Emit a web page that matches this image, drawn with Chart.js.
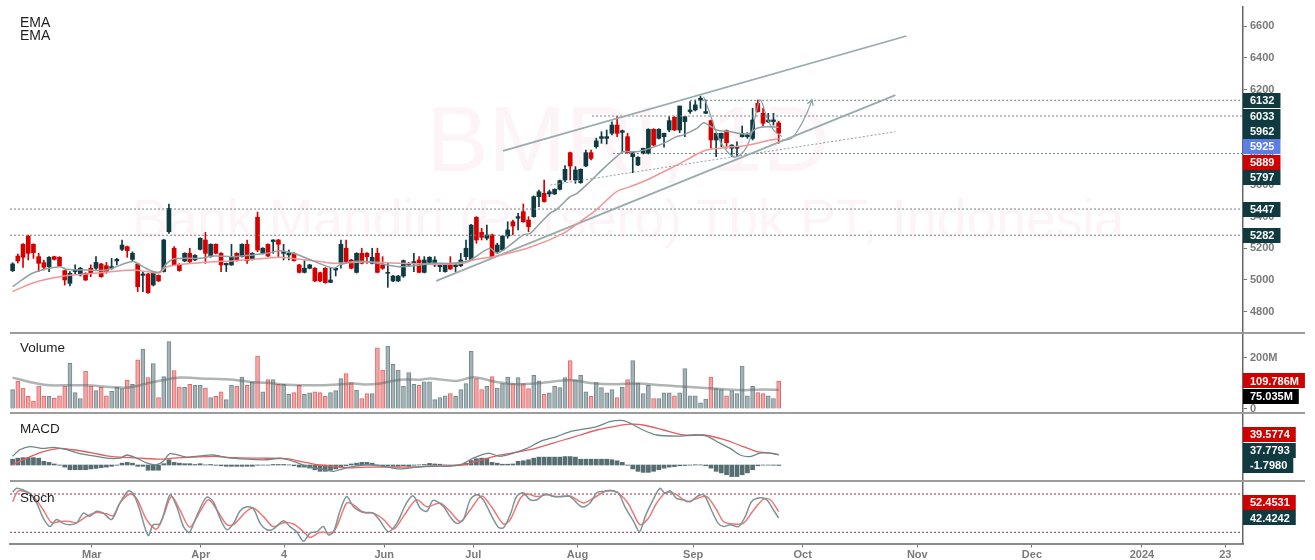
<!DOCTYPE html>
<html><head><meta charset="utf-8">
<script src="https://cdn.jsdelivr.net/npm/chart.js@4.4.0/dist/chart.umd.min.js"></script>
<style>
html,body{margin:0;padding:0;background:#fff;}
#wrap{position:relative;width:1315px;height:560px;overflow:hidden;font-family:"Liberation Sans",Arial,sans-serif;}
canvas{position:absolute;left:0;z-index:2;}
.wm{position:absolute;left:0;width:1256px;text-align:center;color:#fcf4f7;white-space:nowrap;line-height:1;z-index:1;font-family:"Liberation Sans",Arial,sans-serif;}
.ttl{position:absolute;left:20px;color:#1e1e1e;line-height:1;z-index:3;}
.sep{position:absolute;left:10px;width:1295px;height:2px;background:#9c9c9c;z-index:3;}
</style></head><body>
<div id="wrap">
  <div class="wm" style="top:93px;font-size:93px">BMRI, 1D</div>
  <div class="wm" style="top:192px;font-size:53.5px">Bank Mandiri (Persero) Tbk PT, Indonesia</div>
  <canvas id="cPrice" width="1315" height="333" style="top:0"></canvas>
  <canvas id="cVol" width="1315" height="80" style="top:333px"></canvas>
  <canvas id="cMacd" width="1315" height="68" style="top:413px"></canvas>
  <canvas id="cStoch" width="1315" height="79" style="top:481px"></canvas>
  <div class="sep" style="top:332px"></div>
  <div class="sep" style="top:412px"></div>
  <div class="sep" style="top:480px"></div>
  <div class="ttl" style="top:15px;font-size:14px">EMA</div>
  <div class="ttl" style="top:27.5px;font-size:14px">EMA</div>
  <div class="ttl" style="top:340.5px;font-size:13.5px">Volume</div>
  <div class="ttl" style="top:422px;font-size:13.5px">MACD</div>
  <div class="ttl" style="top:490.5px;font-size:13.5px">Stoch</div>
</div>
<script>
// ---------------- DATA ----------------
const open  = [5059,5151,5225,5277,5225,5147,5109,5084,5147,5143, 5059,4979,5053,5032,5042,5074,5074,5101,5090,5074,
5120,5193,5210,5130,5101,5029,5038,4969,5029,5053, 5304,5200,5099,5120,5168,5126,5193,5252,5147,5225,
5168,5095,5095,5168,5147,5225,5130,5395,5168,5225, 5242,5252,5168,5158,5168,5095,5048,5074,5074,5046,
5074,4985,5063,5105,5200,5126,5048,5168,5168,5105, 5168,5095,5042,4994,4994,5025,5095,5105,5126,5048,
5111,5095,5084,5053,5095,5084,5090,5147,5126,5395, 5300,5263,5284,5179,5189,5277,5367,5389,5430,5378,
5399,5525,5546,5542,5542,5571,5630,5802,5630,5613, 5718,5802,5840,5892,5892,5924,5976,5930,5903,5777,
5724,5798,5798,5949,5892,5903,5945,6025,5945,5998, 6061,6071,6134,6050,6004,5882,5892,5941,5830,5830,
5903,5903,5892,6113,6050,5998,5998,5990];
const high  = [5109,5164,5230,5283,5228,5168,5126,5147,5150,5147, 5063,5053,5095,5080,5046,5095,5147,5105,5111,5136,
5136,5252,5214,5178,5105,5053,5042,5053,5032,5256, 5479,5210,5103,5172,5200,5160,5266,5300,5228,5228,
5172,5107,5225,5172,5228,5252,5172,5428,5204,5228, 5254,5256,5225,5189,5172,5099,5122,5099,5078,5050,
5078,5074,5076,5252,5252,5130,5172,5200,5172,5200, 5200,5147,5105,5029,5029,5126,5111,5168,5147,5147,
5147,5147,5105,5099,5147,5105,5168,5252,5350,5399, 5325,5346,5290,5231,5280,5367,5378,5420,5479,5399,
5530,5567,5630,5567,5575,5630,5720,5806,5714,5700, 5819,5819,5893,5934,5945,5997,6029,5945,5924,5808,
5777,5830,5953,5953,5953,5926,6029,6029,6096,6031, 6124,6134,6159,6134,6008,5926,5926,5945,5852,5871,
5970,5928,6082,6134,6082,6050,6050,6000];
const low   = [5053,5107,5080,5126,5136,5053,5063,5053,5125,5084, 4968,4962,5038,5025,4996,5021,5067,5017,5042,5067,
5095,5185,5143,5120,4927,4927,4916,4962,4990,5050, 5294,5090,5055,5115,5105,5122,5189,5105,5143,5164,
5053,5053,5092,5118,5143,5105,5126,5178,5164,5147, 5168,5147,5126,5126,5118,5044,5044,5070,4990,4990,
4979,4983,5025,5074,5105,5070,5044,5101,5105,5101, 5044,5067,4954,4990,4990,5017,5088,5053,5044,5044,
5107,5084,5053,5050,5067,5053,5084,5126,5122,5231, 5252,5252,5143,5168,5185,5263,5284,5315,5363,5304,
5395,5462,5490,5525,5538,5567,5620,5630,5609,5609, 5714,5756,5830,5861,5857,5914,5903,5808,5798,5676,
5720,5794,5794,5846,5888,5836,5934,5941,5928,5903, 6050,6065,6082,6048,5830,5777,5840,5830,5777,5777,
5900,5892,5882,6057,5970,5991,5976,5861];
const close = [5101,5120,5143,5168,5172,5105,5080,5143,5130,5088, 5000,5042,5067,5074,5000,5042,5111,5021,5053,5084,
5130,5220,5185,5168,4958,5038,4920,5046,4994,5252, 5451,5095,5059,5168,5116,5155,5263,5168,5225,5168,
5095,5105,5147,5122,5225,5122,5168,5189,5200,5151, 5252,5225,5178,5168,5122,5048,5074,5095,4994,4994,
4983,5000,5074,5225,5116,5074,5168,5105,5147,5143, 5048,5074,5048,5025,5025,5122,5105,5116,5048,5126,
5143,5126,5095,5095,5069,5095,5126,5200,5346,5252, 5269,5284,5147,5220,5277,5315,5340,5399,5367,5336,
5525,5556,5494,5556,5571,5626,5697,5718,5693,5697, 5802,5766,5876,5903,5903,5976,5924,5940,5802,5802,
5773,5830,5949,5850,5949,5924,6004,5945,6096,6029, 6071,6103,6145,6061,5882,5924,5924,5865,5850,5840,
5924,5914,6008,6061,5987,6008,6008,5925];
// volume in millions
const volume = [75.8,109,82,50,31,90,50,50,42,52, 90,179,64,41,148,90,72,86,52,69,
86,80,113,97,193,234,123,178,45,127, 264,151,86,86,97,93,93,82,45,50,
67,37,93,89,125,93,106,207,67,115, 115,97,97,57,64,93,57,63,67,64,
50,64,72,119,139,104,73,41,60,60, 240,153,247,175,153,89,143,97,93,106,
106,37,45,52,60,50,76,100,226,119, 76,89,127,82,100,125,100,123,100,80,
132,110,57,63,89,84,123,190,114,132, 67,50,104,84,63,76,45,86,115,190,
102,60,93,41,41,63,63,52,63,158, 52,52,24,39,125,80,76,52,71,60,
168,52,89,64,60,52,41,109.786];
const volumeMA = [[0,123],[4,103],[7.2,93],[10.4,93],[14.2,93],[18.7,86],[21.9,84],[24.4,93],[27,106],[29.6,116],[32.1,123],[36,120],[42.4,115],[45.6,106],[48.8,103],[52.6,95],[58.4,93],[61.6,95],[65.4,100],[67.9,96],[70.5,100],[74.3,115],[78.2,115],[80.1,120],[85.2,110],[88.4,124],[92.9,106],[96.7,97],[101.2,102],[107,114],[110.8,102],[115.9,97],[119.8,100],[124.9,93],[130,86],[134.5,80],[139.6,74],[144.1,76],[147,75.035]];
const emaFast = [[0,4958],[4,5046],[9,5084],[10.4,5067],[14,5063],[18,5063],[23,5116],[25,5084],[27,5053],[28.3,5053],[29.6,5105],[31,5134],[36,5137],[38.5,5151],[42.4,5147],[46.2,5158],[48.8,5168],[51.3,5185],[53.9,5168],[56.4,5137],[61.6,5074],[62.8,5095],[65.4,5116],[67.9,5116],[71.8,5095],[74.4,5084],[78.2,5095],[80.8,5105],[84,5105],[87.1,5116],[88.4,5137],[91.6,5200],[92.9,5168],[95.5,5221],[98,5284],[99.3,5294],[100.6,5336],[103.1,5420],[104.4,5445],[107,5525],[108.3,5546],[110.8,5620],[113.4,5703],[115.9,5777],[117.2,5808],[119.8,5808],[122.3,5830],[124.9,5861],[127.4,5903],[128.7,5914],[131.3,5955],[132.6,5991],[133.8,5970],[135.1,5945],[137.7,5934],[140.2,5920],[141.5,5924],[142.8,5956],[144.7,5966],[147,5962]];
const emaSlow = [[0,4927],[4,4983],[9.1,5021],[14.2,5038],[19.3,5053],[23.2,5063],[25.7,5053],[28.3,5046],[29.6,5084],[36,5109],[42.4,5122],[48.8,5137],[51.3,5143],[55.2,5130],[59,5116],[61.6,5105],[64.1,5109],[67.9,5113],[74.4,5105],[80.8,5099],[86.5,5105],[88.4,5126],[92.9,5151],[99.3,5206],[105.7,5294],[108.9,5367],[112.1,5445],[115.9,5557],[118.5,5588],[121.7,5630],[124.9,5682],[128.1,5735],[131.3,5792],[133.2,5819],[135.8,5830],[137.7,5840],[140.2,5844],[142.8,5861],[145.4,5882],[147,5889]];
const levels = [6132, 6033, 5797, 5447, 5282];
const levelStart = [130, 111.2, 115.2, -0.5, -0.5];
const channelTop = [[94.1,5813],[171.5,6537]];
const channelBottom = [[81.3,4994],[169.4,6165]];
const midDotted = [[103.2,5598],[169.4,5934]];
const cupPath = [[132.6,6155],[133.8,6050],[135.1,5924],[136.4,5840],[138.3,5777],[139.6,5787],[140.9,5840],[141.8,5924],[142.8,6071],[143.5,6134],[144.7,6029],[146,5945],[147.6,5903]];
const arrowPath = [[147.6,5882],[148.9,5886],[149.8,5903],[151.1,5966],[152.4,6050],[153.4,6134]];
const arrowHead = [[152.5,6110],[153.4,6134],[153.6,6097]];
const macdHist = [22,26,28,28,28,26,14,10,4,-1, -8,-18,-18,-18,-18,-15,-13,-10,-8,-5,
-1,7,10,7,-5,-5,-20,-20,-20,5, 20,10,7,5,5,2,5,0.5,2,-1,
-3,-5,-5,-5,-5,-5,-5,-1,-0.5,-0.5, 2,2,2,0.5,-3,-8,-8,-12,-18,-24,
-24,-20,-15,-8,-3,4,7,10,10,7, 0.5,-3,-3,-5,-5,-3,-5,-1,0.5,2,
6,4,3,0.5,-1,-1,1,7,17,24, 26,26,10,7,3,3,4,14,16,20,
26,30,30,30,30,30,32,32,30,22, 22,22,22,22,22,20,16,10,-1,-15,
-24,-28,-28,-24,-18,-12,-8,-6,-3,-2, -0.5,1,0.5,-3,-12,-24,-30,-37,-44,-44,
-37,-30,-18,-3,-0.5,-0.5,-1,-1.798];
const macdLine = [[0,33],[1.4,58],[3.3,70],[5.9,63],[7.8,67],[10.4,58],[12.9,43],[15.5,35],[18,26],[20.6,26],[21.9,38],[23.8,26],[25.7,8],[27.6,1],[28.9,14],[30.2,43],[33.4,30],[36,35],[38.5,38],[41.1,28],[44.9,22],[48.8,20],[51.3,26],[53.9,14],[56.4,-5],[59,-15],[61.6,-24],[62.8,-18],[64.7,-8],[67.9,1],[71.1,-5],[74.3,-15],[77.5,-8],[80.7,-3],[83.3,-5],[85.9,1],[88.4,26],[91.3,45],[93.5,33],[96.1,45],[98.7,63],[101.2,89],[104.4,108],[107,127],[109.5,136],[112.1,146],[114.6,165],[117.2,169],[118.5,159],[121,133],[123.6,114],[127.4,110],[131.3,114],[133.2,110],[135.8,82],[137.7,63],[139.6,38],[141.5,32],[143.4,45],[145.4,45],[147,37.7793]];
const signalLine = [[0,1],[2.7,26],[5.9,51],[9.1,63],[11.6,58],[15.5,45],[18,35],[20.6,30],[24.4,26],[28.3,22],[30.8,26],[34.7,30],[38.5,33],[42.4,28],[47.5,26],[52.6,24],[55.2,14],[58.4,1],[61.6,-5],[64.7,-11],[67.9,-8],[74.3,-8],[80.7,-5],[86.5,1],[92.9,35],[99.3,58],[105.7,95],[108.9,114],[112.1,133],[115.9,148],[118.5,155],[121,152],[124.9,133],[128.7,114],[132.6,114],[136.4,97],[140.2,70],[142.8,51],[145.4,45],[147,39.5774]];
const stochK = [[0,83],[0.8,89],[2.1,86],[3.3,81],[4.6,66],[5.9,42],[7.2,29],[8.4,40],[9.7,34],[11,32],[12.3,35],[13.6,50],[14.8,45],[16.1,53],[17.4,50],[19,40],[20.6,66],[22.2,85],[23.2,80],[24.4,55],[26,15],[27,32],[28.3,33],[29.6,66],[30.3,79],[31.5,60],[32.8,29],[33.9,20],[35.3,45],[37.2,75],[38.5,68],[39.8,42],[41.1,24],[42.4,34],[43.6,53],[44.9,60],[46.2,57],[47.5,34],[48.8,24],[50,25],[52,38],[53.2,29],[54.5,21],[55.8,6],[57.1,19],[58.4,21],[59.6,29],[60.6,16],[61.6,21],[62.8,53],[64.1,76],[65.4,60],[66.7,53],[67.9,51],[69.2,50],[70.5,38],[72.1,21],[73.7,34],[75.6,66],[76.9,77],[78.2,58],[79.5,53],[80.7,70],[82.7,60],[83.9,45],[85.2,34],[86.5,40],[87.8,71],[89.1,79],[90.3,71],[91.6,51],[93.2,28],[94.2,27],[95.5,48],[96.7,76],[98,82],[99.3,71],[100.6,71],[102.2,80],[103.8,76],[105.7,76],[107,76],[109.2,60],[110.8,66],[112.1,82],[113.4,84],[115,85],[116.3,81],[117.5,60],[119.1,38],[120.3,21],[121.4,45],[122.6,66],[124.2,89],[125.2,81],[126.2,85],[127.4,73],[128.7,71],[130,68],[131.3,76],[132.6,79],[134.2,53],[135.4,34],[136.4,29],[137.7,32],[139.3,29],[140.6,45],[141.8,68],[143.4,74],[144.7,71],[146,55],[147,42.4242]];
const stochD = [[0,68],[1.1,85],[2.7,83],[4,76],[5.9,55],[7.5,35],[9.1,37],[11,37],[12.3,35],[14.2,45],[16.1,51],[18,49],[19.3,46],[20.6,66],[22.5,80],[23.8,73],[25.7,40],[27.6,25],[28.9,45],[30.5,76],[32.1,55],[34,28],[36,53],[37.6,71],[39.2,55],[41.1,32],[42.4,32],[44.9,53],[46.2,58],[48.1,45],[50,29],[52,35],[53.9,33],[55.8,21],[57.1,12],[59,20],[61.6,21],[64.1,66],[65.4,63],[67.3,51],[69.2,50],[71.2,40],[73.1,25],[75,45],[77.5,71],[79.5,60],[82,66],[83.9,53],[85.9,37],[87.8,55],[90,77],[91.9,60],[94.2,33],[95.5,40],[97.4,73],[98.7,80],[100.6,76],[102.5,79],[104.4,76],[107,77],[109.5,66],[111.4,73],[114,85],[115.9,83],[117.9,68],[119.1,50],[120.4,32],[122,42],[123.6,66],[125.5,83],[127.4,79],[129.4,68],[131.3,73],[133.2,76],[135.1,55],[136.4,37],[138.3,33],[140.2,34],[142.2,55],[144.1,72],[145.4,71],[147,52.4531]];
const stochBands = [80, 20];
const priceTicks = [4800,5000,5200,5400,5600,5800,6000,6200,6400,6600];
const volTicks = [0,100,200];
const xTickPos = [15.2,36.1,52.1,71.3,88.4,108.4,130.6,151.6,173.6,195.6,216.7,232.7];
const xTickLabels = ['Mar','Apr','4','Jun','Jul','Aug','Sep','Oct','Nov','Dec','2024','23'];

// ---------------- STYLE / HELPERS ----------------
const FONT = '"Liberation Sans", Arial, sans-serif';
Chart.defaults.font.family = FONT;
const XMIN = -0.5, XMAX = 236.1;
const C_UP = '#0e3a42', C_DN = '#d40000';
const L_DARK = '#0f3a40', L_RED = '#cf0000', L_BLUE = '#5b7fe6', L_BLACK = '#000000';
const up = i => close[i] >= open[i];
const pts = a => a.map(p => ({x: p[0], y: p[1]}));
const last = a => a[a.length - 1][1];

function xHidden() { return {type: 'linear', min: XMIN, max: XMAX, offset: false, display: false}; }
function yAxis(min, max, ticks, fmt, show) {
  return {
    type: 'linear', position: 'right', min, max,
    afterBuildTicks: s => { s.ticks = ticks.map(v => ({value: v})); },
    afterFit: s => { s.width = 72; s.paddingTop = 0; s.paddingBottom = 0; },
    ticks: {display: show, color: '#7a7a7a', font: {family: FONT, size: 11, weight: 'bold'}, padding: 3, callback: fmt},
    grid: {drawOnChartArea: false, drawTicks: show, tickLength: 4, color: '#777'},
    border: {display: true, color: '#666', width: 1.5}
  };
}
function labelPlugin(items, dir) {
  return {
    id: 'valueLabels',
    afterDraw(chart) {
      const ctx = chart.ctx, ys = chart.scales.y, x0 = chart.chartArea.right;
      const arr = items.map(it => Object.assign({}, it, {y: ys.getPixelForValue(it.value)})).sort((a, b) => a.y - b.y);
      const sp = 15.4;
      if (dir > 0) { for (let i = 1; i < arr.length; i++) arr[i].y = Math.max(arr[i].y, arr[i - 1].y + sp); }
      else { for (let i = arr.length - 2; i >= 0; i--) arr[i].y = Math.min(arr[i].y, arr[i + 1].y - sp); }
      ctx.save();
      ctx.font = 'bold 11px ' + FONT;
      ctx.textBaseline = 'middle';
      arr.forEach(a => {
        const w = ctx.measureText(a.text).width + 13;
        ctx.fillStyle = a.color;
        ctx.fillRect(x0, Math.round(a.y - 7.5), w, 15);
        ctx.fillStyle = '#ffffff';
        ctx.fillText(a.text, x0 + 7, a.y + 0.5);
      });
      ctx.restore();
    }
  };
}
const lineDs = (data, color, width, extra) => Object.assign({
  type: 'line', data, borderColor: color, borderWidth: width, pointRadius: 0, fill: false, tension: 0, order: 1
}, extra || {});
const base = (pad) => ({
  responsive: false, animation: false, devicePixelRatio: 1, events: [],
  layout: {padding: pad},
  plugins: {legend: {display: false}, tooltip: {enabled: false}}
});

// ---------------- PRICE PANE ----------------
const idxs = close.map((_, i) => i);
const priceDatasets = [
  {type: 'bar', data: idxs.map(i => ({x: i, y: [open[i], close[i]]})), barThickness: 4, grouped: false,
   backgroundColor: c => up(c.dataIndex) ? C_UP : C_DN, order: 4},
  {type: 'bar', data: idxs.map(i => ({x: i, y: [low[i], high[i]]})), barThickness: 1, grouped: false,
   backgroundColor: c => up(c.dataIndex) ? C_UP : C_DN, order: 5},
  lineDs(pts(emaFast), '#8ea0a3', 1.5, {tension: 0.3}),
  lineDs(pts(emaSlow), '#f09696', 1.5, {tension: 0.3}),
  lineDs(pts(channelTop), '#9aabae', 1.8),
  lineDs(pts(channelBottom), '#9aabae', 1.8),
  lineDs(pts(midDotted), '#8d9ea2', 1, {borderDash: [2, 2]}),
  lineDs(pts(cupPath), '#8a9ea2', 1.2, {tension: 0.4}),
  lineDs(pts(arrowPath), '#8a9ea2', 1.2, {tension: 0.4}),
  lineDs(pts(arrowHead), '#8a9ea2', 1.2)
];
levels.forEach((v, k) => priceDatasets.push(lineDs([{x: levelStart[k], y: v}, {x: XMAX, y: v}], '#6f8085', 1, {borderDash: [2, 2]})));
const priceLabels = levels.map(v => ({value: v, text: String(v), color: L_DARK}))
  .concat([
    {value: last(emaFast), text: String(last(emaFast)), color: L_DARK},
    {value: close[close.length - 1], text: String(close[close.length - 1]), color: L_BLUE},
    {value: last(emaSlow), text: String(last(emaSlow)), color: L_RED}
  ]);
new Chart(document.getElementById('cPrice'), {
  type: 'bar',
  data: {datasets: priceDatasets},
  options: Object.assign(base({left: 10, top: 7, right: 0, bottom: 0}), {
    scales: {x: xHidden(), y: yAxis(4666.1, 6719.7, priceTicks, v => String(v), true)}
  }),
  plugins: [labelPlugin(priceLabels, 1)]
});

// ---------------- VOLUME PANE ----------------
new Chart(document.getElementById('cVol'), {
  type: 'bar',
  data: {datasets: [
    {type: 'bar', data: idxs.map(i => ({x: i, y: volume[i]})), barThickness: 4, grouped: false, borderWidth: 1,
     backgroundColor: c => up(c.dataIndex) ? '#a6b3b6' : '#f3a4a4',
     borderColor: c => up(c.dataIndex) ? '#748a8e' : '#e26a6a', order: 3},
    lineDs(pts(volumeMA), 'rgba(95,105,105,0.5)', 2.5, {tension: 0.3})
  ]},
  options: Object.assign(base({left: 10, top: 0, right: 0, bottom: 0}), {
    scales: {x: xHidden(), y: yAxis(-15.7, 297.9, volTicks, v => v === 0 ? '0' : v + 'M', true)}
  }),
  plugins: [labelPlugin([
    {value: volume[volume.length - 1], text: volume[volume.length - 1].toFixed(3) + 'M', color: L_RED},
    {value: last(volumeMA), text: last(volumeMA).toFixed(3) + 'M', color: L_BLACK}
  ], 1)]
});

// ---------------- MACD PANE ----------------
new Chart(document.getElementById('cMacd'), {
  type: 'bar',
  data: {datasets: [
    {type: 'bar', data: idxs.map(i => ({x: i, y: macdHist[i]})), barThickness: 4, grouped: false,
     backgroundColor: '#566d71', order: 3},
    lineDs(pts(macdLine), '#6c868a', 1.3, {tension: 0.25}),
    lineDs(pts(signalLine), '#e85c5c', 1.3, {tension: 0.25})
  ]},
  options: Object.assign(base({left: 10, top: 0, right: 0, bottom: 0}), {
    scales: {x: xHidden(), y: yAxis(-60.8, 197.6, [], v => v, false)}
  }),
  plugins: [labelPlugin([
    {value: last(signalLine), text: last(signalLine).toFixed(4), color: L_RED},
    {value: last(macdLine), text: last(macdLine).toFixed(4), color: L_DARK},
    {value: macdHist[macdHist.length - 1], text: macdHist[macdHist.length - 1].toFixed(4), color: L_DARK}
  ], -1)]
});

// ---------------- STOCH PANE ----------------
new Chart(document.getElementById('cStoch'), {
  type: 'line',
  data: {datasets: [
    lineDs([{x: XMIN, y: stochBands[0]}, {x: XMAX, y: stochBands[0]}], '#7c3358', 1, {borderDash: [2, 2], order: 3}),
    lineDs([{x: XMIN, y: stochBands[1]}, {x: XMAX, y: stochBands[1]}], '#7c3358', 1, {borderDash: [2, 2], order: 3}),
    lineDs(pts(stochD), '#ef7777', 1.5, {tension: 0.3, order: 2}),
    lineDs(pts(stochK), '#7e9497', 1.5, {tension: 0.3, order: 1})
  ]},
  options: Object.assign(base({left: 10, top: 0, right: 0, bottom: 0}), {
    scales: {
      x: {
        type: 'linear', min: XMIN, max: XMAX, offset: false, position: 'bottom',
        afterBuildTicks: s => { s.ticks = xTickPos.map(v => ({value: v})); },
        afterFit: s => { s.height = 16.5; s.paddingLeft = 0; s.paddingRight = 0; },
        ticks: {autoSkip: false, maxRotation: 0, color: '#7a7a7a', padding: 1,
                font: {family: FONT, size: 11, weight: 'bold'}, callback: (v, i) => xTickLabels[i]},
        grid: {drawOnChartArea: false, tickLength: 4, color: '#777'},
        border: {display: true, color: '#8a8a8a', width: 2}
      },
      y: yAxis(2.45, 100.4, [], v => v, false)
    }
  }),
  plugins: [labelPlugin([
    {value: last(stochD), text: last(stochD).toFixed(4), color: L_RED},
    {value: last(stochK), text: last(stochK).toFixed(4), color: L_DARK}
  ], -1)]
});
</script>
</body></html>
